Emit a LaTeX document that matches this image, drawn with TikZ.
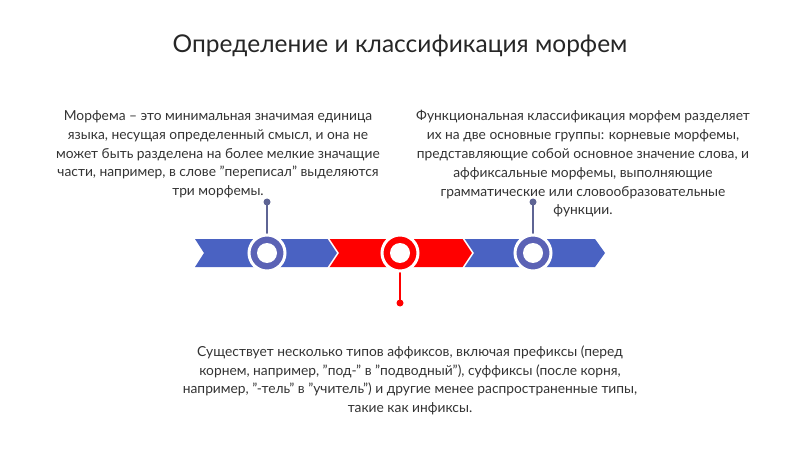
\documentclass[tikz,border=0pt]{standalone}
\usepackage{fontspec}
\setmainfont{Lato}
\begin{document}
\begin{tikzpicture}[x=1pt,y=-1pt,
 txt/.style={align=center,font=\fontsize{13.8}{18.8}\selectfont,text=black!80},
 ring/.style={circle,draw=white,line width=3pt,fill=#1,minimum size=36pt,inner sep=0},
 inner/.style={circle,fill=white,minimum size=20pt,inner sep=0}]
\definecolor{bl}{HTML}{4A62C2}\definecolor{rg}{HTML}{5B62B5}\definecolor{rd}{HTML}{FF0000}\definecolor{pincol}{HTML}{5E6494}
\useasboundingbox (0,0) rectangle (800,449);
\node[font=\fontsize{24.5}{28}\selectfont,text=black!85] (title) at (400,46) {Определение и классификация морфем};
\fill[bl] (195,239) -- (328,239) -- (338,253) -- (328,267) -- (195,267) -- (204,253) -- cycle;
\fill[rd] (328,239) -- (463,239) -- (473,253) -- (463,267) -- (328,267) -- (338,253) -- cycle;
\fill[bl] (463,239) -- (595,239) -- (605,253) -- (595,267) -- (463,267) -- (473,253) -- cycle;
\draw[white,line width=1.5pt] (328,238)--(338,253)--(328,268) (463,238)--(473,253)--(463,268);
\coordinate (p1) at (267,202); \coordinate (p2) at (400,303); \coordinate (p3) at (533,202);
\draw[pincol,line width=1.2pt] (p1)--(267,253) (p3)--(533,253);
\draw[rd,line width=1.2pt] (p2)--(400,253);
\fill[pincol] (p1) circle (3.5); \fill[pincol] (p3) circle (3.5); \fill[rd] (p2) circle (3.5);
\node[ring=rg] (c1) at (267,253) {}; \node[inner] at (c1) {};
\node[ring=rd] (c2) at (400,253) {}; \node[inner] at (c2) {};
\node[ring=rg] (c3) at (533,253) {}; \node[inner] at (c3) {};
\node[txt,anchor=north] (t1) at (218,107) {Морфема – это минимальная значимая единица\\языка, несущая определенный смысл, и она не\\может быть разделена на более мелкие значащие\\части, например, в слове ''переписал'' выделяются\\три морфемы.};
\node[txt,anchor=north] (t2) at (583,107) {Функциональная классификация морфем разделяет\\их на две основные группы: корневые морфемы,\\представляющие собой основное значение слова, и\\аффиксальные морфемы, выполняющие\\грамматические или словообразовательные\\функции.};
\node[txt,anchor=north] (t3) at (410,342) {Существует несколько типов аффиксов, включая префиксы (перед\\корнем, например, "под-" в "подводный"), суффиксы (после корня,\\например, "-тель" в "учитель") и другие менее распространенные типы,\\такие как инфиксы.};
\end{tikzpicture}
\end{document}
